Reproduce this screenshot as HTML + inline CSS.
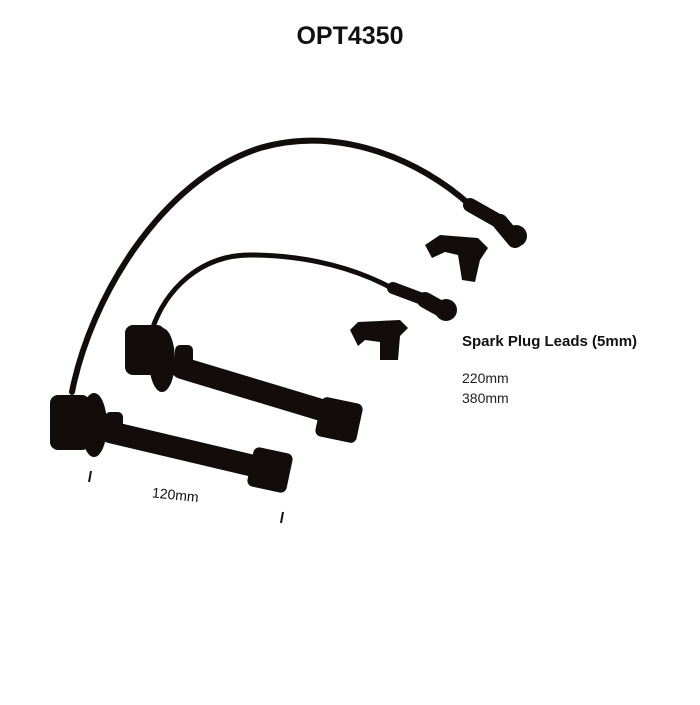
<!DOCTYPE html>
<html><head><style>
body{margin:0;background:#fff;width:700px;height:700px;overflow:hidden;font-family:"Liberation Sans",sans-serif;}
</style></head><body>
<svg width="700" height="700" viewBox="0 0 700 700">
<text x="350" y="44" text-anchor="middle" font-size="25" font-weight="bold" fill="#111" font-family="Liberation Sans">OPT4350</text>
<g fill="none" stroke="#120d0b" stroke-linecap="round">
<path d="M72 392 C90 300 160 180 260 148 C340 125 420 160 470 205" stroke-width="6"/>
<path d="M152 330 C165 290 200 255 250 255 C310 255 360 270 395 290" stroke-width="5"/>
<path d="M470 205 L500 222" stroke-width="14"/>
<path d="M500 222 L515 240" stroke-width="16"/>
<path d="M393 288 L425 300" stroke-width="12"/>
<path d="M425 300 L443 310" stroke-width="16"/>
<path d="M110 432 L262 468" stroke-width="22"/>
<path d="M182 368 L328 412" stroke-width="22"/>
</g>
<g fill="#120d0b">
<circle cx="516" cy="236" r="11"/>
<circle cx="446" cy="310" r="11"/>
<rect x="250" y="450" width="40" height="40" rx="6" transform="rotate(12 270 470)"/>
<rect x="318" y="400" width="42" height="40" rx="6" transform="rotate(12 339 420)"/>
<ellipse cx="94" cy="425" rx="13" ry="32"/>
<ellipse cx="162" cy="360" rx="13" ry="32"/>
<rect x="50" y="395" width="40" height="55" rx="8"/>
<rect x="125" y="325" width="40" height="50" rx="8"/>
<rect x="105" y="412" width="18" height="30" rx="5"/>
<rect x="175" y="345" width="18" height="30" rx="5"/>
<path d="M425 245 L440 235 L478 238 L488 248 L480 260 L475 282 L462 280 L458 255 L445 252 L432 258 Z"/>
<path d="M350 330 L358 322 L400 320 L408 328 L400 336 L398 360 L380 360 L380 342 L365 340 L358 346 Z"/>
</g>
<g stroke="#111" stroke-width="2">
<line x1="91" y1="471" x2="89" y2="482"/>
<line x1="283" y1="512" x2="281" y2="523"/>
</g>
<text x="152" y="500" font-size="14" fill="#111" transform="rotate(6 178 495)">120mm</text>
<text x="462" y="346" font-size="15" font-weight="bold" fill="#111">Spark Plug Leads (5mm)</text>
<text x="462" y="383" font-size="14" fill="#222">220mm</text>
<text x="462" y="403" font-size="14" fill="#222">380mm</text>
</svg>
</body></html>
